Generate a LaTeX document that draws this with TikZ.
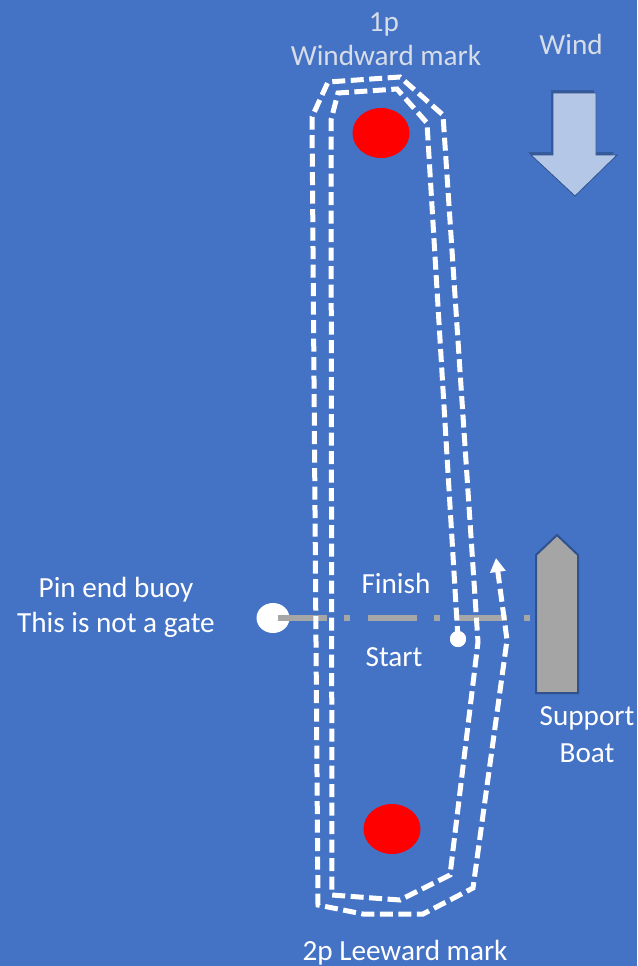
\documentclass[tikz,border=0pt]{standalone}
\usepackage{fontspec}
\setmainfont{Carlito}
\usetikzlibrary{arrows.meta,shapes.geometric}
\definecolor{bg}{HTML}{4472C4}
\definecolor{markred}{HTML}{FF0000}
\definecolor{finishgray}{HTML}{A6A6A6}
\definecolor{boatgray}{HTML}{A5A5A5}
\definecolor{darkblue}{HTML}{2F528F}
\definecolor{windfill}{HTML}{B4C7E7}
\definecolor{paletext}{RGB}{214,221,232}
\tikzset{
  lbl/.style={font=\fontsize{29.2}{35}\selectfont, text=white, inner sep=0pt, anchor=base},
  palelbl/.style={lbl, text=paletext},
  course/.style={draw=white, line width=5pt, dash pattern=on 13pt off 5.5pt, line join=miter},
  buoymark/.style={ellipse, fill=markred, draw=none, minimum width=57pt, minimum height=50pt, inner sep=0pt},
  whitedot/.style={circle, fill=white, draw=none, inner sep=0pt},
  finishline/.style={draw=finishgray, line width=6pt, dash pattern=on 49pt off 17pt on 6pt off 18pt},
}
\begin{document}
\begin{tikzpicture}[x=1pt, y=-1pt]
\fill[bg] (0,0) rectangle (637,966);
\useasboundingbox (0,0) rectangle (637,966);

% labels
\node[palelbl] (lbl1p) at (384,32) {1p};
\node[palelbl] (lblww) at (386,66) {Windward mark};
\node[palelbl] (lblwind) at (571,55) {Wind};
\node[lbl] (lblpin1) at (116,597) {Pin end buoy};
\node[lbl] (lblpin2) at (116,632) {This is not a gate};
\node[lbl] (lblfinish) at (396,593) {Finish};
\node[lbl] (lblstart) at (394,666) {Start};
\node[lbl] (lblsupport) at (587,725) {Support};
\node[lbl] (lblboat) at (587,762) {Boat};
\node[lbl] (lblleeward) at (405,960) {2p Leeward mark};

% marks
\node[buoymark] (windward) at (381,133) {};
\node[buoymark] (leeward) at (392,829) {};

% wind arrow
\fill[black, opacity=0.2] (551,90) -- (594,90) -- (594,152) -- (614,152) -- (573,193) -- (528,152) -- (551,152) -- cycle;
\draw[darkblue, fill=windfill, line width=0.8pt] (553,93) -- (596,93) -- (596,155) -- (617,155) -- (575,196) -- (531,155) -- (553,155) -- cycle;

% support boat
\draw[darkblue, fill=boatgray, line width=2pt, line join=miter] (536,555) -- (557,535) -- (578,555) -- (578,693) -- (536,693) -- cycle;
\coordinate (boatleft) at (536,618);

% pin buoy and finish line
\node[ellipse, fill=white, draw=none, minimum width=33pt, minimum height=30pt, inner sep=0pt] (pin) at (273,618) {};
\draw[finishline] ([xshift=5pt]pin.center) -- (boatleft);

% course path
\node[whitedot, minimum size=16pt] (startdot) at (458,639) {};
\coordinate (a1) at (427,123);
\coordinate (a2) at (397,89);
\coordinate (a3) at (338,93);
\coordinate (a4) at (331,120);
\coordinate (a5) at (332,895);
\coordinate (a6) at (400,900);
\coordinate (a7) at (450,875);
\coordinate (a8) at (478,642);
\coordinate (b1) at (443,115);
\coordinate (b2) at (400,77);
\coordinate (b3) at (328,82);
\coordinate (b4) at (312,117);
\coordinate (b5) at (318,905);
\coordinate (b6) at (363,914);
\coordinate (b7) at (423,914);
\coordinate (b8) at (473,888);
\coordinate (b9) at (507,640);
\coordinate (finishend) at (496,558);
\draw[course, -{Triangle[width=15pt,length=14pt]}] (startdot.center) -- (a1) -- (a2) -- (a3) -- (a4) -- (a5) -- (a6) -- (a7) -- (a8)
  -- (b1) -- (b2) -- (b3) -- (b4) -- (b5) -- (b6) -- (b7) -- (b8) -- (b9) -- (finishend);
\node[whitedot, minimum size=16pt] at (startdot.center) {};
\end{tikzpicture}
\end{document}
